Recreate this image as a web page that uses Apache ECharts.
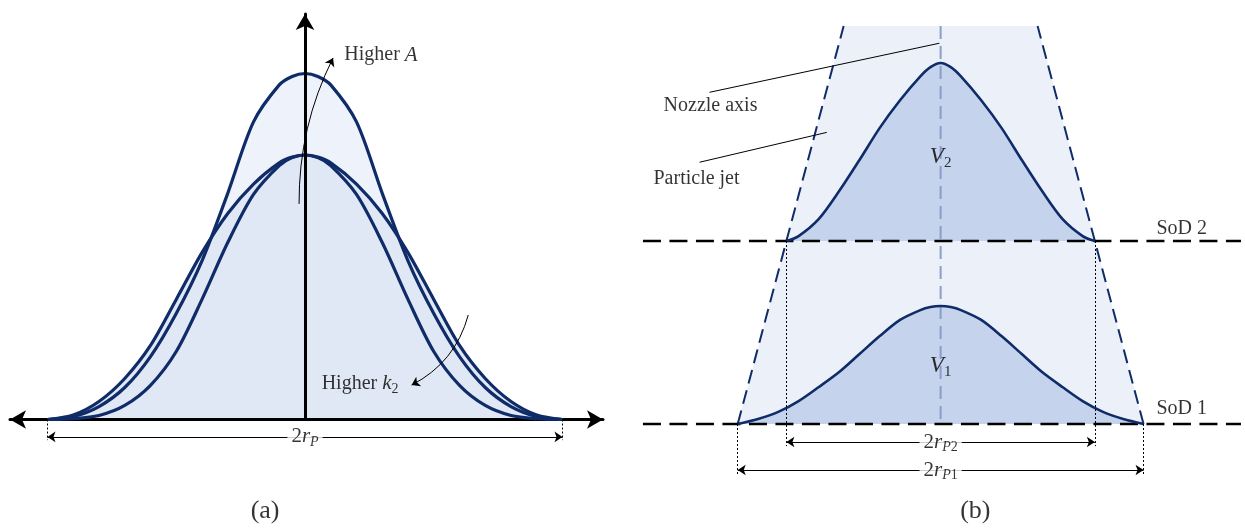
<!DOCTYPE html>
<html>
<head>
<meta charset="utf-8">
<script src="https://cdn.jsdelivr.net/npm/echarts@6/dist/echarts.min.js"></script>
<style>
  html, body { margin: 0; padding: 0; background: #fff; }
  #main { width: 1245px; height: 528px; }
</style>
</head>
<body>
<div id="main"></div>
<script>
// ---- Panel (a): single-track profiles, x in units of r_P, height relative to the base peak ----
const profileHigherA = [
  [-1.0, 0.000], [-0.9, 0.011], [-0.8, 0.049], [-0.7, 0.121], [-0.6, 0.238], [-0.5, 0.401],
  [-0.4, 0.600], [-0.3, 0.855], [-0.2, 1.125], [-0.1, 1.265], [-0.05, 1.297], [0.0, 1.308],
  [0.05, 1.297], [0.1, 1.265], [0.2, 1.125], [0.3, 0.855], [0.4, 0.600], [0.5, 0.401],
  [0.6, 0.238], [0.7, 0.121], [0.8, 0.049], [0.9, 0.011], [1.0, 0.000]
];
const profileBase = [
  [-1.0, 0.000], [-0.9, 0.017], [-0.8, 0.068], [-0.7, 0.155], [-0.6, 0.280], [-0.5, 0.454],
  [-0.4, 0.631], [-0.3, 0.779], [-0.2, 0.890], [-0.1, 0.970], [-0.05, 0.992], [0.0, 1.000],
  [0.05, 0.992], [0.1, 0.970], [0.2, 0.890], [0.3, 0.779], [0.4, 0.631], [0.5, 0.454],
  [0.6, 0.280], [0.7, 0.155], [0.8, 0.068], [0.9, 0.017], [1.0, 0.000]
];
const profileHigherK2 = [
  [-1.0, 0.000], [-0.9, 0.003], [-0.8, 0.015], [-0.7, 0.053], [-0.6, 0.129], [-0.5, 0.257],
  [-0.4, 0.454], [-0.3, 0.669], [-0.2, 0.851], [-0.1, 0.960], [-0.05, 0.990], [0.0, 1.000],
  [0.05, 0.990], [0.1, 0.960], [0.2, 0.851], [0.3, 0.669], [0.4, 0.454], [0.5, 0.257],
  [0.6, 0.129], [0.7, 0.053], [0.8, 0.015], [0.9, 0.003], [1.0, 0.000]
];
const spotRadiusA = 1.0;

// ---- Panel (b): jet and profiles at two stand-off distances, x and height in units of r_P1 ----
const sodHeights = [0, 0.895];           // SoD 1, SoD 2
const sodNames = ['SoD 1', 'SoD 2'];
const spotRadii = [1.0, 0.76];           // r_P1, r_P2
const jetTopHeight = 1.946;
const jetTopRadius = 0.478;
const profileV1 = [
  [-1.0, 0.000], [-0.9, 0.024], [-0.8, 0.059], [-0.7, 0.112], [-0.6, 0.181], [-0.5, 0.254],
  [-0.4, 0.342], [-0.3, 0.430], [-0.2, 0.509], [-0.1, 0.557], [-0.05, 0.572], [0.0, 0.577],
  [0.05, 0.572], [0.1, 0.557], [0.2, 0.509], [0.3, 0.430], [0.4, 0.342], [0.5, 0.254],
  [0.6, 0.181], [0.7, 0.112], [0.8, 0.059], [0.9, 0.024], [1.0, 0.000]
];
const profileV2 = [
  [-0.76, 0.895], [-0.7, 0.919], [-0.6, 1.003], [-0.5, 1.139], [-0.4, 1.291], [-0.3, 1.448],
  [-0.2, 1.583], [-0.1, 1.700], [-0.05, 1.745], [0.0, 1.765], [0.05, 1.745],
  [0.1, 1.700], [0.2, 1.583], [0.3, 1.448], [0.4, 1.291], [0.5, 1.139], [0.6, 1.003],
  [0.7, 0.919], [0.76, 0.895]
];

const NAVY = '#0f2c69';
const SERIF = 'Liberation Serif';
const SMOOTH = 0.3;

const rich = {
  t:   { fontFamily: SERIF, fontSize: 20, color: '#000' },
  i:   { fontFamily: SERIF, fontSize: 21, fontStyle: 'italic', color: '#000' },
  n:   { fontFamily: SERIF, fontSize: 21, color: '#000' },
  s:   { fontFamily: SERIF, fontSize: 14, color: '#000', padding: [11, 0, 0, 0] },
  si:  { fontFamily: SERIF, fontSize: 14, fontStyle: 'italic', color: '#000', padding: [11, 0, 0, 0] },
  vi:  { fontFamily: SERIF, fontSize: 23, fontStyle: 'italic', color: '#000' },
  vs:  { fontFamily: SERIF, fontSize: 15, color: '#000', padding: [12, 0, 0, 0] },
  cap: { fontFamily: SERIF, fontSize: 26, color: '#000' }
};

function lineSeries(grid, data, extra) {
  return Object.assign({
    type: 'line', xAxisIndex: grid, yAxisIndex: grid, data: data,
    symbol: 'none', silent: true, clip: false, animation: false
  }, extra);
}
function fill(grid, data, color, z, origin) {
  return lineSeries(grid, data, {
    smooth: SMOOTH, z: z,
    lineStyle: { width: 0, opacity: 0 },
    areaStyle: { color: color, opacity: 1, origin: origin === undefined ? 'auto' : origin }
  });
}
function stroke(grid, data, width, z) {
  return lineSeries(grid, data, {
    smooth: SMOOTH, z: z,
    lineStyle: { color: NAVY, width: width }
  });
}
function segments(grid, list, style, symbol, symbolSize, z) {
  return {
    type: 'lines', coordinateSystem: 'cartesian2d', xAxisIndex: grid, yAxisIndex: grid,
    polyline: false, silent: true, clip: false, z: z || 8,
    symbol: symbol || ['none', 'none'], symbolSize: symbolSize || 8,
    lineStyle: Object.assign({ color: '#000', width: 1, opacity: 1 }, style),
    data: list
  };
}
function labels(grid, items) {
  return {
    type: 'scatter', xAxisIndex: grid, yAxisIndex: grid, silent: true, clip: false, z: 12,
    symbolSize: 1, itemStyle: { color: 'rgba(0,0,0,0)' },
    label: { show: true, position: 'inside', rich: rich, color: '#000',
      textBorderWidth: 0, textBorderColor: 'transparent' },
    data: items.map(function (it) {
      return { value: it.at, label: Object.assign({ formatter: it.text }, it.style || {}) };
    })
  };
}

const rA = spotRadiusA;
const [sod1, sod2] = sodHeights;
const [rP1, rP2] = spotRadii;
const jetOutline = [[-rP1, sod1], [-jetTopRadius, jetTopHeight], [jetTopRadius, jetTopHeight], [rP1, sod1]];
const dimA = -0.066, dimB2 = -0.088, dimB1 = -0.225;

const series = [
  // (a) filled areas, then outlines
  fill(0, profileHigherA, '#eef2fa', 1),
  fill(0, profileBase, '#e1e8f5', 2),
  fill(0, profileHigherK2, '#e1e8f5', 2),
  stroke(0, profileHigherA, 3.2, 5),
  stroke(0, profileBase, 3.2, 5),
  stroke(0, profileHigherK2, 3.2, 5),
  // (a) span of the deposit
  segments(0, [
    { coords: [[-rA, 0], [-rA, dimA - 0.012]] },
    { coords: [[rA, 0], [rA, dimA - 0.012]] }
  ], { type: [2, 2] }),
  segments(0, [{ coords: [[-rA, dimA], [rA, dimA]] }], {}, ['arrow', 'arrow'], 8),
  // (a) trend arrows
  segments(0, [{ coords: [[-0.023, 0.815], [0.109, 1.367]] }], { curveness: 0.12 }, ['none', 'arrow'], 8),
  segments(0, [{ coords: [[0.634, 0.395], [0.414, 0.130]] }], { curveness: 0.22 }, ['none', 'arrow'], 8),
  labels(0, [
    { at: [0.295, 1.378], text: '{t|Higher }{i|A}' },
    { at: [0.214, 0.136], text: '{t|Higher }{i|k}{s|2}' },
    { at: [0, dimA], text: '{n|2}{i|r}{si|P}', style: { backgroundColor: '#fff', padding: [0, 4, 0, 4] } },
    { at: [-0.155, -0.346], text: '{cap|(a)}' }
  ]),

  // (b) particle jet cone
  lineSeries(1, jetOutline, { z: 1, lineStyle: { width: 0, opacity: 0 }, areaStyle: { color: '#ecf0f9', opacity: 1 } }),
  fill(1, profileV1, '#c5d3ec', 2),
  fill(1, profileV2, '#c5d3ec', 2, sod2),
  // nozzle axis
  lineSeries(1, [[0, jetTopHeight], [0, sod1]], { z: 3, lineStyle: { color: '#8b9dcb', width: 2, type: [13, 7] } }),
  // jet edges
  lineSeries(1, [[-rP1, sod1], [-jetTopRadius, jetTopHeight]], { z: 6, lineStyle: { color: NAVY, width: 2, type: [14, 7] } }),
  lineSeries(1, [[rP1, sod1], [jetTopRadius, jetTopHeight]], { z: 6, lineStyle: { color: NAVY, width: 2, type: [14, 7] } }),
  // stand-off planes
  lineSeries(1, [[-1.467, sod1], [1.48, sod1]], { z: 6, lineStyle: { color: '#000', width: 2.5, type: [18, 8.5] } }),
  lineSeries(1, [[-1.467, sod2], [1.48, sod2]], { z: 6, lineStyle: { color: '#000', width: 2.5, type: [18, 8.5] } }),
  stroke(1, profileV1, 2.6, 7),
  stroke(1, profileV2, 2.6, 7),
  // spot diameters
  segments(1, [
    { coords: [[-rP2, sod2], [-rP2, dimB2 - 0.02]] },
    { coords: [[rP2, sod2], [rP2, dimB2 - 0.02]] },
    { coords: [[-rP1, sod1], [-rP1, dimB1 - 0.025]] },
    { coords: [[rP1, sod1], [rP1, dimB1 - 0.025]] }
  ], { type: [2, 2] }),
  segments(1, [
    { coords: [[-rP2, dimB2], [rP2, dimB2]] },
    { coords: [[-rP1, dimB1], [rP1, dimB1]] }
  ], {}, ['arrow', 'arrow'], 8),
  // leader lines
  segments(1, [
    { coords: [[-1.139, 1.622], [-0.006, 1.862]] },
    { coords: [[-1.188, 1.280], [-0.561, 1.426]] }
  ], {}),
  labels(1, [
    { at: [-1.134, 1.555], text: '{t|Nozzle axis}' },
    { at: [-1.203, 1.198], text: '{t|Particle jet}' },
    { at: [1.188, sod2 + 0.059], text: '{t|' + sodNames[1] + '}' },
    { at: [1.188, sod1 + 0.073], text: '{t|' + sodNames[0] + '}' },
    { at: [0, 1.306], text: '{vi|V}{vs|2}' },
    { at: [0, 0.284], text: '{vi|V}{vs|1}' },
    { at: [0, dimB2], text: '{n|2}{i|r}{si|P}{s|2}', style: { backgroundColor: '#fff', padding: [0, 4, 0, 4] } },
    { at: [0, dimB1], text: '{n|2}{i|r}{si|P}{s|1}', style: { backgroundColor: '#fff', padding: [0, 4, 0, 4] } },
    { at: [0.171, -0.425], text: '{cap|(b)}' }
  ])
];

const hidden = { show: false };
const option = {
  animation: false,
  backgroundColor: '#fff',
  grid: [
    { left: 10, top: 14, width: 593, height: 405.5 },
    { left: 636.25, top: 15, width: 613.5, height: 490.8 }
  ],
  xAxis: [
    {
      gridIndex: 0, type: 'value', min: -1.1456, max: 1.1573, z: 4,
      axisLine: { show: true, onZero: true, symbol: ['arrow', 'arrow'], symbolSize: [14, 16],
        lineStyle: { color: '#000', width: 3 } },
      axisTick: hidden, axisLabel: hidden, splitLine: hidden
    },
    { gridIndex: 1, type: 'value', min: -1.5, max: 1.5, show: false }
  ],
  yAxis: [
    {
      gridIndex: 0, type: 'value', min: 0, max: 1.533, z: 10,
      axisLine: { show: true, onZero: true, symbol: ['none', 'arrow'], symbolSize: [14, 16],
        lineStyle: { color: '#000', width: 3 } },
      axisTick: hidden, axisLabel: hidden, splitLine: hidden
    },
    { gridIndex: 1, type: 'value', min: -0.4, max: 2.0, show: false }
  ],
  series: series
};

const chart = echarts.init(document.getElementById('main'), null, { renderer: 'canvas' });
chart.setOption(option);
</script>
</body>
</html>
